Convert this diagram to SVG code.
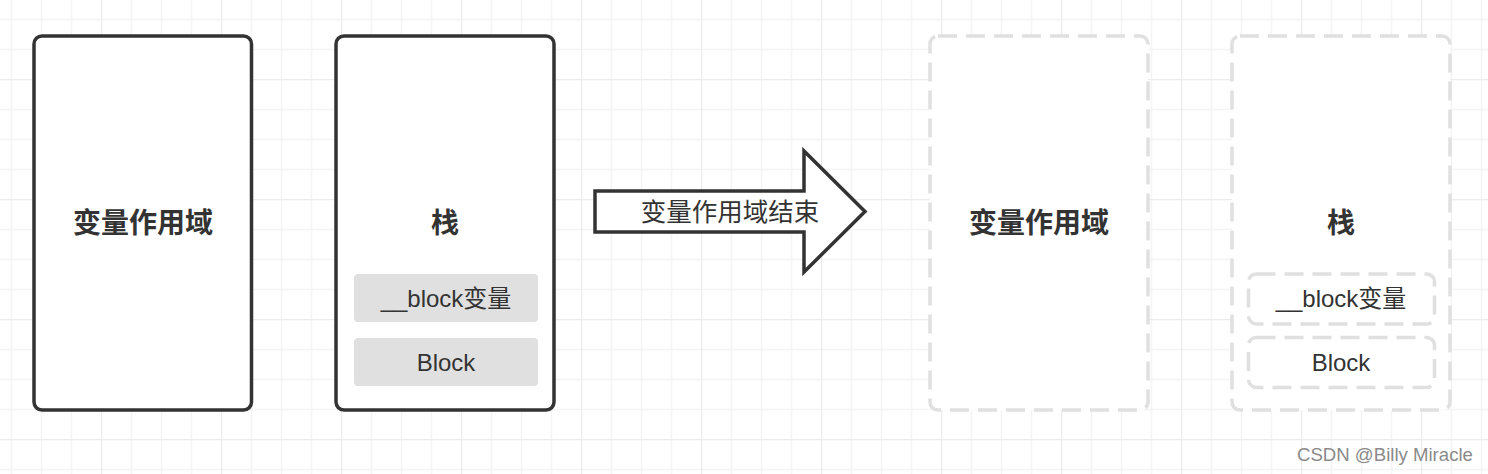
<svg xmlns="http://www.w3.org/2000/svg" width="1488" height="474" viewBox="0 0 1488 474">
  <style>
    .solid { fill: #ffffff; stroke: #333333; stroke-width: 3.5; }
    .dashed { fill: #ffffff; stroke: #e0e0e0; stroke-width: 3.5; stroke-dasharray: 19 9; }
    .chip { fill: #e0e0e0; stroke: none; }
    .t { font-family: "Liberation Sans", "Noto Sans CJK SC", sans-serif; fill: #333333; text-anchor: middle; dominant-baseline: central; }
    .big { font-size: 28px; font-weight: bold; }
    .small { font-size: 24px; }
    .arrowtxt { font-size: 25.5px; }
    .wm { font-family: "Liberation Sans", "Noto Sans CJK SC", sans-serif; font-size: 18.6px; fill: #8a8a8a; }
  </style>
  <defs>
    <pattern id="grid" patternUnits="userSpaceOnUse" x="101" y="79" width="120" height="120">
      <path d="M30.5 0V120M60.5 0V120M90.5 0V120M0 30.5H120M0 60.5H120M0 90.5H120" stroke="#f4f4f4" stroke-width="1.5" fill="none"/>
      <path d="M0.5 0V120M0 0.5H120" stroke="#ebebeb" stroke-width="1.5" fill="none"/>
    </pattern>
  </defs>
  <rect x="0" y="0" width="1488" height="474" fill="#ffffff"/>
  <rect x="0" y="0" width="1488" height="474" fill="url(#grid)"/>

  <g id="scope-before">
    <rect class="solid" x="34" y="36" width="217.5" height="374" rx="8"/>
    <text class="t big" x="143" y="223">变量作用域</text>
  </g>

  <g id="stack-before">
    <rect class="solid" x="336" y="36" width="218" height="374" rx="8"/>
    <text class="t big" x="445" y="223">栈</text>
    <g id="block-var-before">
      <rect class="chip" x="354" y="274" width="184" height="48" rx="4"/>
      <text class="t small" x="446" y="298">__block变量</text>
    </g>
    <g id="block-before">
      <rect class="chip" x="354" y="338" width="184" height="48" rx="4"/>
      <text class="t small" x="446" y="362">Block</text>
    </g>
  </g>

  <g id="connectors">
    <g id="arrow">
      <polygon points="595,191 804,191 804,151 865,211.5 804,272 804,232 595,232" fill="#ffffff" stroke="#333333" stroke-width="3.5" stroke-linejoin="miter"/>
      <text class="t arrowtxt" x="730" y="212">变量作用域结束</text>
    </g>
  </g>

  <g id="scope-after">
    <rect class="dashed" x="930" y="36" width="218" height="374" rx="8"/>
    <text class="t big" x="1039" y="223">变量作用域</text>
  </g>

  <g id="stack-after">
    <rect class="dashed" x="1232" y="36" width="218" height="374" rx="8"/>
    <text class="t big" x="1341" y="223">栈</text>
    <g id="block-var-after">
      <rect class="dashed" x="1248.5" y="274" width="186" height="50" rx="8"/>
      <text class="t small" x="1341" y="298.5">__block变量</text>
    </g>
    <g id="block-after">
      <rect class="dashed" x="1248.5" y="337.5" width="186" height="50" rx="8"/>
      <text class="t small" x="1341" y="362">Block</text>
    </g>
  </g>

  <text class="wm" x="1297" y="461">CSDN @Billy Miracle</text>
</svg>
